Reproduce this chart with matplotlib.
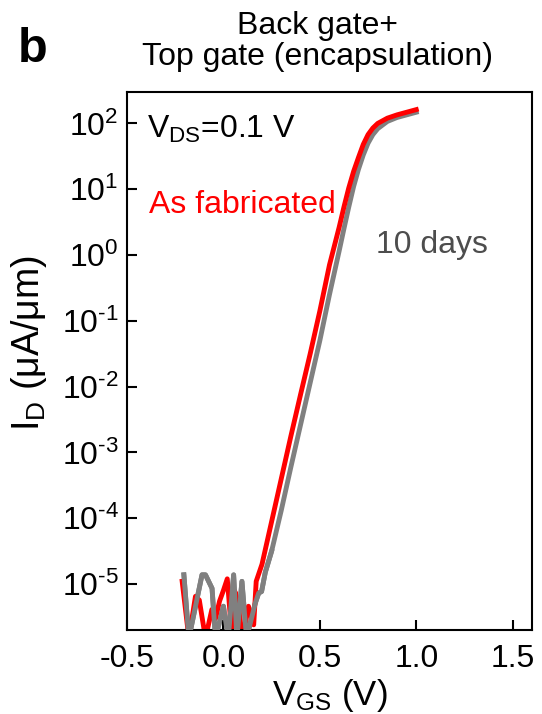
import numpy as np
import matplotlib
matplotlib.use("Agg")
import matplotlib.pyplot as plt

# ----------------------------------
# DATA
# ----------------------------------

vgs_fab = [-0.214, -0.179, -0.145, -0.125, -0.093, -0.06, -0.041, -0.02, 0.0, 0.02,
           0.045, 0.06, 0.075, 0.10, 0.13, 0.157, 0.17,
           0.20, 0.25, 0.30, 0.35, 0.40, 0.45, 0.50, 0.55, 0.60, 0.625,
           0.65, 0.675, 0.70, 0.725, 0.75, 0.775, 0.80, 0.85, 0.90, 0.95, 1.00]
log_fab_on = [-4.7, -4.05, -3.4, -2.75, -2.12, -1.5, -0.85, -0.15, 0.42, 0.73,
              1.02, 1.27, 1.48, 1.68, 1.83, 1.93, 2.0, 2.08, 2.13, 2.17, 2.21]
id_fab = [1.1e-5, 1.5e-6, 6.5e-6, 5.7e-6, 1.5e-6, 4.1e-6, 3.0e-6, 5.5e-6, 8.0e-6, 1.2e-5,
          1.5e-6, 7.7e-6, 5.0e-6, 1.5e-6, 4.6e-6, 2.4e-6, 1.1e-5] + [10**v for v in log_fab_on]

vgs_10d = [-0.205, -0.179, -0.111, -0.093, -0.059, -0.041, 0.0, 0.025, 0.053, 0.070,
           0.096, 0.12, 0.165, 0.183, 0.198, 0.217,
           0.25, 0.30, 0.35, 0.40, 0.45, 0.50, 0.55, 0.60, 0.625,
           0.65, 0.675, 0.70, 0.725, 0.75, 0.775, 0.80, 0.85, 0.90, 0.95, 1.00]
log_10d_on = [-4.5, -3.88, -3.22, -2.58, -1.94, -1.3, -0.6, 0.06, 0.4,
              0.73, 1.04, 1.3, 1.52, 1.7, 1.83, 1.92, 2.03, 2.09, 2.13, 2.17]
id_10d = [1.38e-5, 1.5e-6, 1.38e-5, 1.38e-5, 8.6e-6, 1.5e-6, 4.6e-6, 1.5e-6, 1.38e-5, 1.5e-6,
          1.1e-5, 1.5e-6, 5.1e-6, 7.3e-6, 7.7e-6, 1.5e-5] + [10**v for v in log_10d_on]
n_off_10d = 17

x_ticks = [-0.5, 0.0, 0.5, 1.0, 1.5]
x_labels = ["-0.5", "0.0", "0.5", "1.0", "1.5"]
y_exps = [-5, -4, -3, -2, -1, 0, 1, 2]

# ----------------------------------
# STYLE
# ----------------------------------

plt.rcParams["font.family"] = ["Liberation Sans", "DejaVu Sans"]
plt.rcParams["mathtext.fontset"] = "custom"
plt.rcParams["mathtext.rm"] = "Liberation Sans"
plt.rcParams["mathtext.it"] = "Liberation Sans"
plt.rcParams["mathtext.default"] = "regular"
plt.rcParams["axes.unicode_minus"] = False

fig = plt.figure(figsize=(5.42, 7.14), dpi=100)
ax = fig.add_axes([0.2343, 0.1176, 0.7472, 0.7535])

# ----------------------------------
# PLOT
# ----------------------------------

ax.plot(vgs_10d, id_10d, color="#808080", lw=3.5, zorder=1)
ax.plot(vgs_fab, id_fab, color="#ff0000", lw=3.5, zorder=2)
ax.plot(vgs_10d[:n_off_10d], id_10d[:n_off_10d], color="#808080", lw=3.5, zorder=3)

ax.set_yscale("log")
ax.set_xlim(-0.5, 1.6)
ax.set_ylim(2e-6, 3e2)
ax.set_xticks(x_ticks)
ax.set_xticklabels(x_labels)
ax.set_yticks([10.0**e for e in y_exps])
ax.set_yticklabels(
    ["10$^{\\text{%s}}$" % str(e) for e in y_exps]
)
ax.yaxis.set_minor_locator(matplotlib.ticker.NullLocator())

ax.tick_params(direction="in", length=7, width=1.5, labelsize=23)
ax.tick_params(axis="x", pad=10)
ax.tick_params(axis="y", pad=6)
for s in ax.spines.values():
    s.set_linewidth(1.5)

ax.set_xlabel("V$_{GS}$ (V)", fontsize=25, labelpad=2)
fig.text(0.054, 0.519, "I$_{D}$ ($\\mu$A/$\\mu$m)", fontsize=27,
         rotation=90, ha="center", va="center")

ax.text(0.05, 0.93, "V$_{DS}$=0.1 V", transform=ax.transAxes,
        fontsize=23, va="center", ha="left")
ax.text(0.055, 0.79, "As fabricated", transform=ax.transAxes,
        fontsize=23, va="center", ha="left", color="#ff0000")
ax.text(0.615, 0.715, "10 days", transform=ax.transAxes,
        fontsize=23, va="center", ha="left", color="#4d4d4d")

fig.text(0.586, 0.985, "Back gate+\nTop gate (encapsulation)",
         ha="center", va="top", fontsize=23, linespacing=1.05)
fig.text(0.033, 0.93, "b", fontsize=35, fontweight="bold", va="center")

fig.savefig("out.png", dpi=100)
